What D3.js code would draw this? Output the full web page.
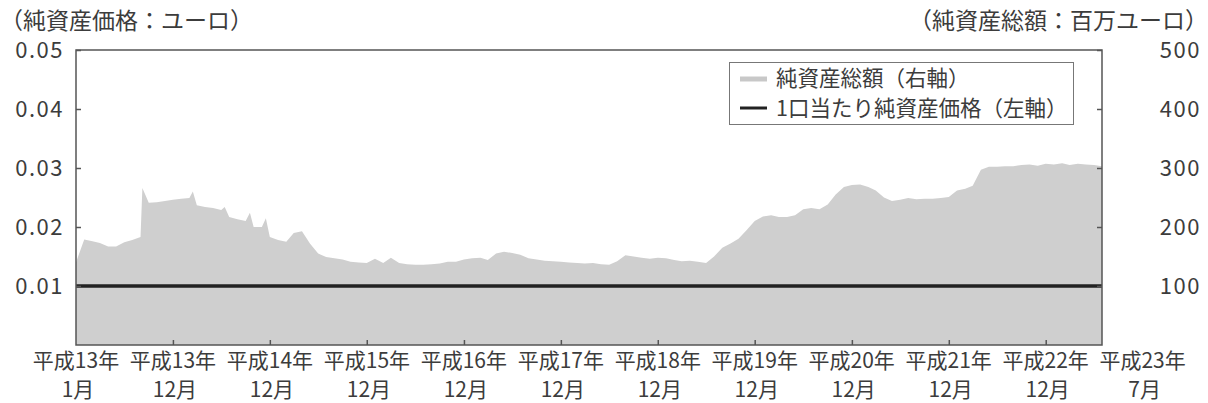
<!DOCTYPE html>
<html>
<head>
<meta charset="utf-8">
<script src="https://cdn.jsdelivr.net/npm/d3@7"></script>
<style>
  body { margin: 0; background: #fff; }
  svg text { font-family: "Noto Sans CJK JP", sans-serif; fill: #3c3c3c; }
</style>
</head>
<body>
<script>
/* data: monthly net assets (million EUR, right axis) from Dec 2000 */
var START_MONTH = "2000-12-01";
var END_MONTH = "2011-07-01";
var netAssets = [
  140, 179, 176, 173, 167, 167, 174, 178, 183,
  241, 242, 244, 246, 248, 249,
  237, 234, 232, 229,
  217, 213, 210, 200, 200,
  183, 178, 175, 190, 193, 172,
  155, 149, 147, 145, 141, 140, 139,
  146, 139, 148, 139, 137, 136, 136, 137, 138, 141, 141,
  145, 147, 148, 144, 155, 158, 156, 153, 147, 145, 143, 142,
  141, 140, 139, 138, 139, 137, 136, 142, 152, 150, 148, 146,
  148, 147, 144, 142, 143, 141, 139, 150, 165, 172, 180, 195,
  210, 218, 220, 217, 217, 220, 230, 232, 230, 238, 255, 268,
  271, 272, 268, 262, 250, 244, 246, 249, 247, 248, 248, 249,
  251, 262, 265, 270, 297, 302, 302, 303, 303, 305, 306, 304,
  307, 306, 308, 305, 307, 306, 305, 303
];
// short-lived peaks between month ends
var spikeDates = ["2001-08-08", "2002-02-14", "2002-06-14", "2002-09-17", "2002-11-16"];
var spikeValues = [266, 260, 234, 224, 215];

// NAV per unit (EUR, left axis)
var navDates = ["2000-12-01", "2011-07-01"];
var navValues = [0.01, 0.01];

var leftTicks = [0.01, 0.02, 0.03, 0.04, 0.05];
var rightTicks = [100, 200, 300, 400, 500];
var xLabelYear = ["平成13年", "平成13年", "平成14年", "平成15年", "平成16年", "平成17年",
                  "平成18年", "平成19年", "平成20年", "平成21年", "平成22年", "平成23年"];
var xLabelMonth = ["1月", "12月", "12月", "12月", "12月", "12月",
                   "12月", "12月", "12月", "12月", "12月", "7月"];

/* layout */
var WIDTH = 1208, HEIGHT = 403;
var M = {left: 76, right: 1102, top: 50, bottom: 345};

var parse = d3.timeParse("%Y-%m-%d");
var start = parse(START_MONTH);

var series = netAssets.map((v, i) => ({date: d3.timeMonth.offset(start, i), v: v}))
  .concat(spikeDates.map((d, i) => ({date: parse(d), v: spikeValues[i]})))
  .sort((a, b) => a.date - b.date);

var x = d3.scaleTime().domain([start, parse(END_MONTH)]).range([M.left, M.right]);
var yL = d3.scaleLinear().domain([0, 0.05]).range([M.bottom, M.top]);
var yR = d3.scaleLinear().domain([0, 500]).range([M.bottom, M.top]);

var svg = d3.select("body").append("svg")
    .attr("width", WIDTH)
    .attr("height", HEIGHT);

svg.append("path")
    .datum(series)
    .attr("fill", "#cfcfcf")
    .attr("d", d3.area().x(d => x(d.date)).y0(yR(0)).y1(d => yR(d.v)));

svg.append("path")
    .datum(navDates.map((d, i) => ({date: parse(d), v: navValues[i]})))
    .attr("fill", "none")
    .attr("stroke", "#222")
    .attr("stroke-width", 3.5)
    .attr("d", d3.line().x(d => x(d.date)).y(d => yL(d.v)));

// frame
svg.append("rect")
    .attr("x", M.left).attr("y", M.top)
    .attr("width", M.right - M.left).attr("height", M.bottom - M.top)
    .attr("fill", "none").attr("stroke", "#555").attr("stroke-width", 1.5);

// axes
var gl = svg.append("g")
    .attr("transform", `translate(${M.left},0)`)
    .call(d3.axisLeft(yL).tickValues(leftTicks).tickSize(-5).tickPadding(12)
      .tickFormat(d3.format(".2f")));
var gr = svg.append("g")
    .attr("transform", `translate(${M.right},0)`)
    .call(d3.axisRight(yR).tickValues(rightTicks).tickSize(-5).tickFormat(d3.format("d")));
gr.selectAll("text").attr("x", 99).attr("text-anchor", "end");

var tickDates = d3.range(2001, 2011).map(yr => new Date(yr, 11, 1));
var gb = svg.append("g")
    .attr("transform", `translate(0,${M.bottom})`)
    .call(d3.axisBottom(x).tickValues(tickDates).tickSize(-5).tickFormat(""));

[gl, gr, gb].forEach(g => {
  g.select(".domain").remove();
  g.selectAll("line").attr("stroke", "#555").attr("stroke-width", 1.5);
  g.selectAll("text").attr("font-size", 22).attr("fill", "#3c3c3c")
    .attr("font-family", "\"Noto Sans CJK JP\", sans-serif")
    .attr("letter-spacing", 1.5);
});

// category labels under the axis
var xl = d3.scalePoint().domain(d3.range(xLabelYear.length))
    .range([x(start), x(new Date(2011, 11, 1))]);
var lab = svg.append("g").attr("font-size", 21).attr("text-anchor", "middle");
lab.selectAll(".yr").data(xLabelYear).join("text")
    .attr("x", (d, i) => xl(i)).attr("y", 368).text(d => d);
lab.selectAll(".mo").data(xLabelMonth).join("text")
    .attr("x", (d, i) => xl(i) + 2).attr("y", 397).text(d => d);

// axis titles
svg.append("text").attr("x", 0).attr("y", 29).attr("font-size", 23)
    .text("（純資産価格：ユーロ）");
svg.append("text").attr("x", 1208).attr("y", 29).attr("font-size", 23)
    .attr("text-anchor", "end").text("（純資産総額：百万ユーロ）");

// legend
var lg = svg.append("g");
lg.append("rect").attr("x", 729.5).attr("y", 62.5).attr("width", 344).attr("height", 62)
    .attr("fill", "#fff").attr("stroke", "#777").attr("stroke-width", 1);
lg.append("line").attr("x1", 740).attr("x2", 767).attr("y1", 79).attr("y2", 79)
    .attr("stroke", "#c8c8c8").attr("stroke-width", 5);
lg.append("line").attr("x1", 740).attr("x2", 767).attr("y1", 108).attr("y2", 108)
    .attr("stroke", "#222").attr("stroke-width", 3);
lg.append("text").attr("x", 776).attr("y", 86).attr("font-size", 21.5).text("純資産総額（右軸）");
lg.append("text").attr("x", 776).attr("y", 116).attr("font-size", 21.5).text("1口当たり純資産価格（左軸）");
</script>
</body>
</html>
